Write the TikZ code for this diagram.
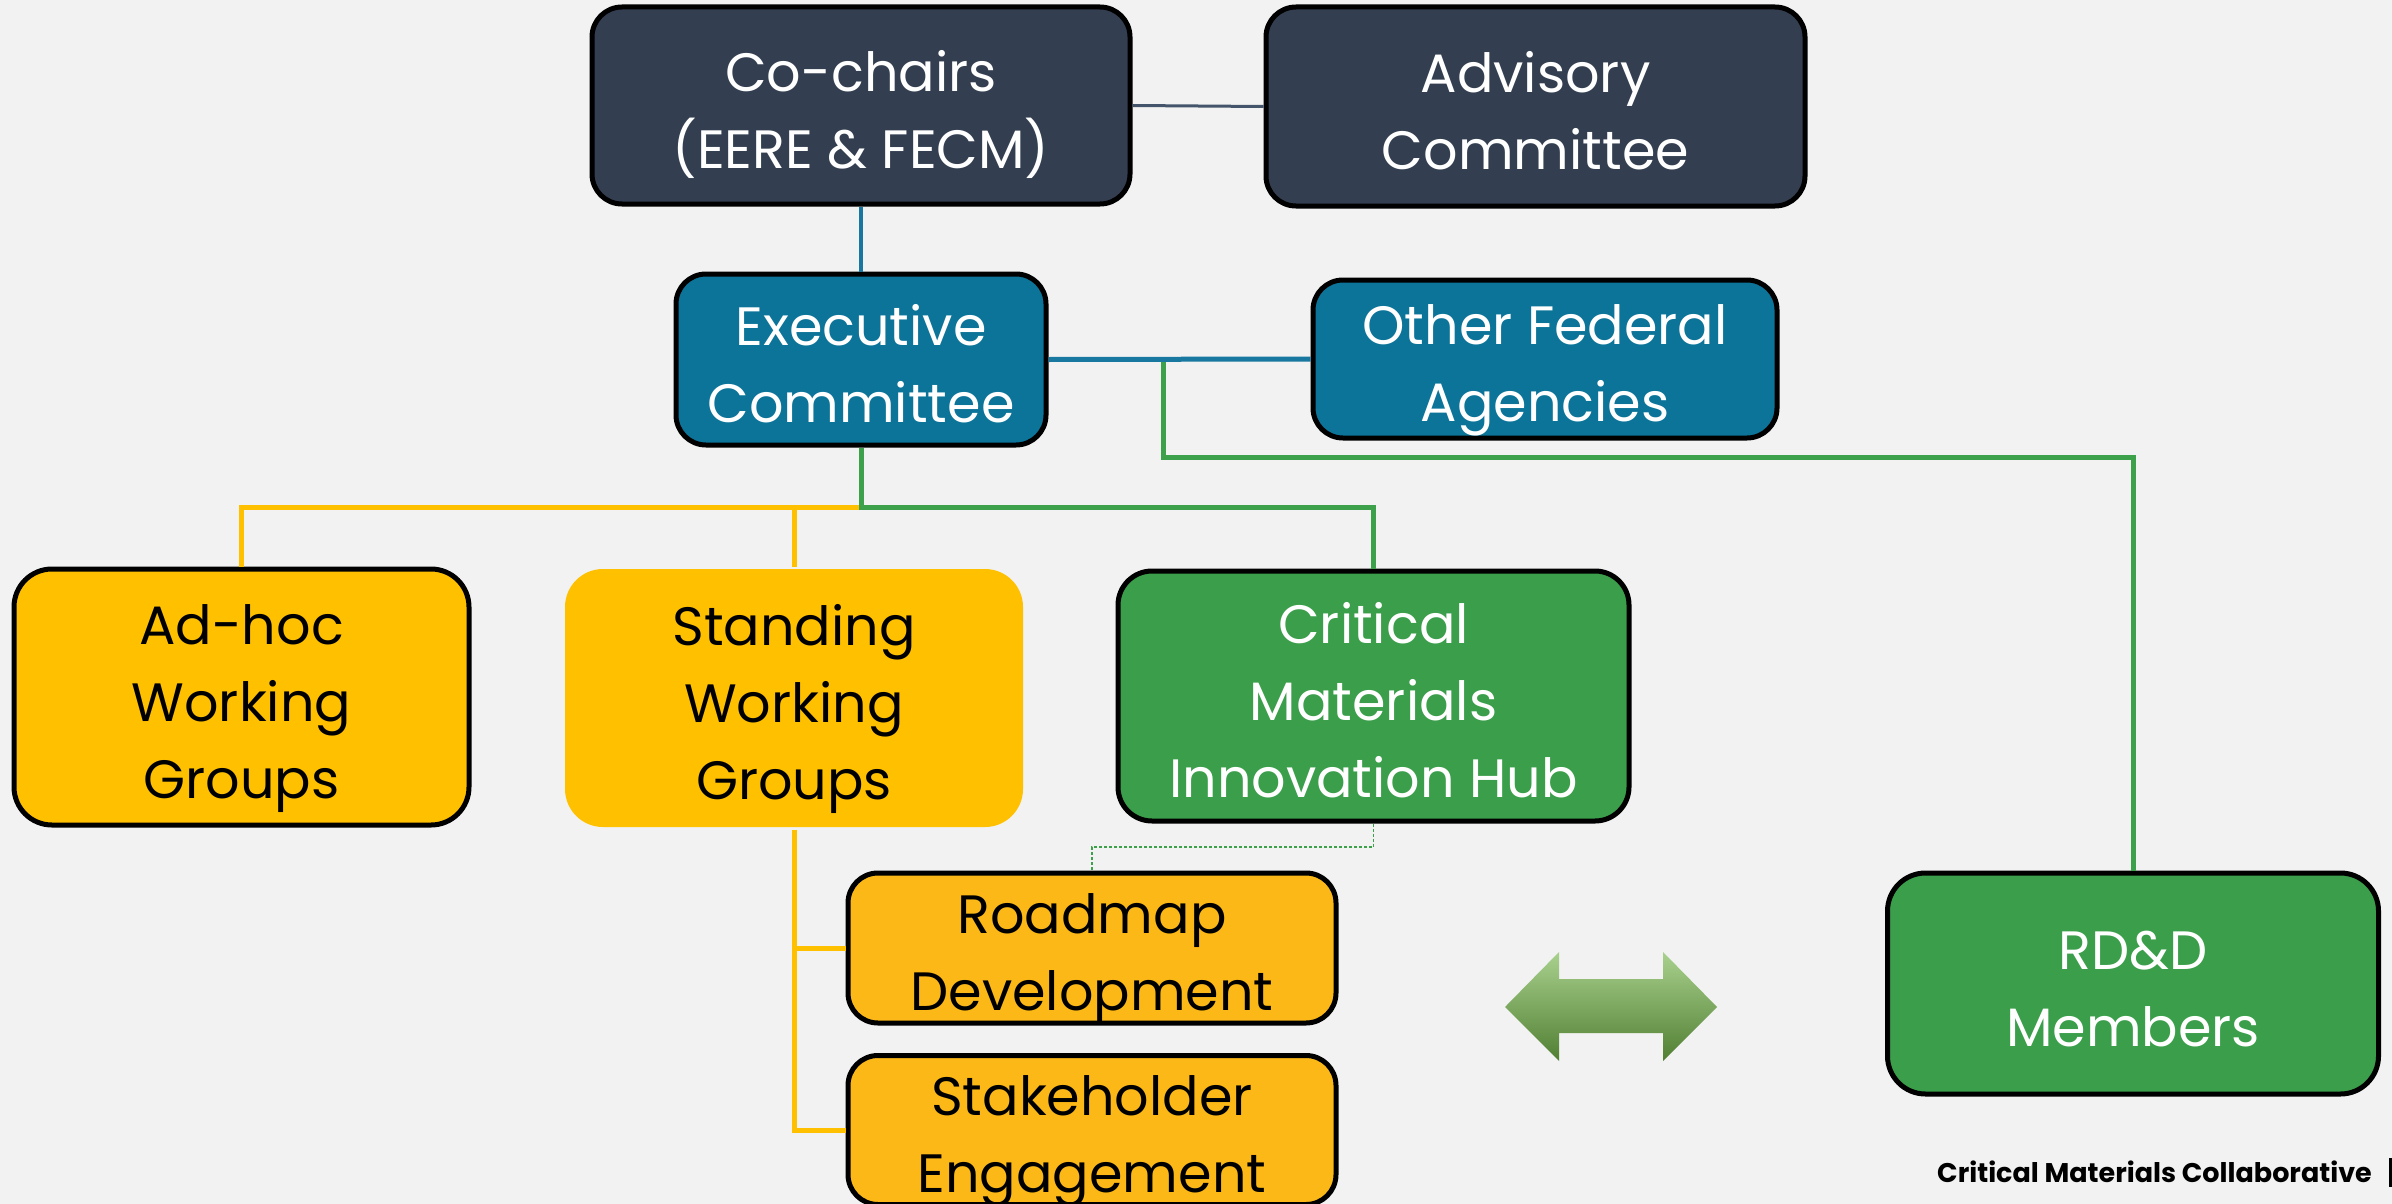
\documentclass[tikz,border=0pt]{standalone}
\usepackage{fontspec}
\setmainfont{Poppins}
\definecolor{bgc}{HTML}{F2F2F2}
\definecolor{slate}{HTML}{333F50}
\definecolor{tealc}{HTML}{0C7499}
\definecolor{greenc}{HTML}{3A9E4A}
\definecolor{yellowc}{HTML}{FFC000}
\definecolor{ambc}{HTML}{FBB817}
\definecolor{grayln}{HTML}{44546A}
\definecolor{tealln}{HTML}{1878A0}
\definecolor{greenln}{HTML}{3DA04B}
\definecolor{arrtop}{HTML}{A9D18E}
\definecolor{arrmid}{HTML}{7EB35A}
\definecolor{arrbot}{HTML}{507F32}
\begin{document}
\begin{tikzpicture}[x=1pt,y=-1pt,
  box/.style={rectangle, rounded corners=30pt, line width=5pt, draw=black,
    align=center, inner sep=0pt, font=\fontsize{54}{77}\selectfont},
  twoline/.style={text height=137pt, text depth=12pt},
  threeline/.style={text height=214pt, text depth=12pt},
  darkbox/.style={box, fill=slate, text=white},
  tealbox/.style={box, fill=tealc, text=white},
  greenbox/.style={box, fill=greenc, text=white},
  yellowbox/.style={box, fill=yellowc, text=black, rounded corners=38pt},
  subbox/.style={box, fill=ambc, text=black},
  grayline/.style={draw=grayln, line width=3pt},
  tealline/.style={draw=tealln, line width=3.5pt},
  greenline/.style={draw=greenln, line width=5pt},
  yellowline/.style={draw=yellowc, line width=5pt},
  dashline/.style={draw=greenln, line width=1.2pt, dash pattern=on 3pt off 2pt},
]
% canvas
\fill[bgc] (0,0) rectangle (2392,1204);
\useasboundingbox (0,0) rectangle (2392,1204);

% top level
\node[darkbox, twoline, minimum width=538pt, minimum height=197pt] (cochairs) at (861,105.5)
  {Co-chairs\\(EERE \& FECM)};
\node[darkbox, twoline, minimum width=539pt, minimum height=199pt] (advisory) at (1535.5,106.5)
  {Advisory\\Committee};

% executive level
\node[tealbox, twoline, minimum width=370pt, minimum height=171pt] (exec) at (861,359.5)
  {Executive\\Committee};
\node[tealbox, twoline, minimum width=464pt, minimum height=158pt] (other) at (1545,359)
  {Other Federal\\Agencies};

% groups
\node[yellowbox, threeline, minimum width=455pt, minimum height=256pt] (adhoc) at (241.5,697)
  {Ad-hoc\\Working\\Groups};
\node[yellowbox, threeline, draw=none, minimum width=458pt, minimum height=258pt] (standing) at (794,698)
  {Standing\\Working\\Groups};
\node[greenbox, threeline, rounded corners=34pt, minimum width=511pt, minimum height=250pt] (critical) at (1373.5,696)
  {Critical\\Materials\\Innovation Hub};
\node[subbox, twoline, minimum width=488pt, minimum height=150pt] (roadmap) at (1092,948)
  {Roadmap\\Development};
\node[subbox, twoline, minimum width=488pt, minimum height=146pt] (stake) at (1092,1130)
  {Stakeholder\\Engagement};
\node[greenbox, twoline, rounded corners=38pt, minimum width=491pt, minimum height=221pt] (rdd) at (2133,983.5)
  {RD\&D\\Members};

% connectors
\coordinate (bus) at (0,507);
\coordinate (gbus) at (0,457);
\coordinate (dbus) at (0,847);
\coordinate (gj) at (1163,359.5);

\draw[grayline] (cochairs.east) -- (advisory.west);
\draw[tealline] (cochairs.south) -- (exec.north);
\draw[greenline] (gj) |- (rdd.north |- gbus) -- (rdd.north);
\draw[tealline, line width=5pt] (exec.east) -- (other.west);

\draw[yellowline] (exec.south |- bus) -| (adhoc.north);
\draw[yellowline] (standing.north) -- (standing.north |- bus);
\draw[greenline] (exec.south) -- (exec.south |- bus) -| (critical.north);

\draw[dashline] (critical.south) -- (critical.south |- dbus) -| (roadmap.north);
\draw[yellowline] (standing.south) |- (stake.west);
\draw[yellowline] (standing.south |- roadmap.west) -- (roadmap.west);

% two-way arrow
\shade[top color=arrtop, middle color=arrmid, bottom color=arrbot]
  (1505,1007) -- (1559,952) -- (1559,979) -- (1663,979) -- (1663,952) -- (1717,1007)
  -- (1663,1061) -- (1663,1033) -- (1559,1033) -- (1559,1061) -- cycle;

% footer
\node[anchor=east, inner sep=0pt, font=\bfseries\fontsize{27}{30}\selectfont] (footer) at (2372,1172)
  {Critical Materials Collaborative};
\fill[black] (2389,1158) rectangle (2392,1187);
\end{tikzpicture}
\end{document}
